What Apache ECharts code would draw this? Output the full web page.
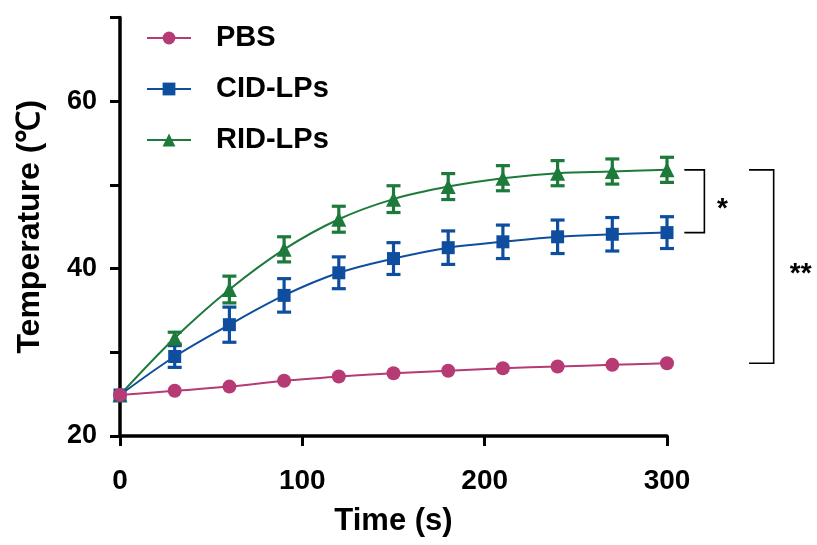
<!DOCTYPE html>
<html>
<head>
<meta charset="utf-8">
<script src="https://cdn.jsdelivr.net/npm/echarts@6/dist/echarts.min.js"></script>
<style>html,body{margin:0;padding:0;background:#fff;}#chart{width:817px;height:545px;}</style>
</head>
<body>
<div id="chart"></div>
<script>
const times = [0, 30, 60, 90, 120, 150, 180, 210, 240, 270, 300];
const pbs = [24.9, 25.4, 25.9, 26.6, 27.1, 27.5, 27.8, 28.1, 28.3, 28.5, 28.7];
const cid = [24.9, 29.5, 33.3, 36.8, 39.5, 41.2, 42.5, 43.2, 43.8, 44.1, 44.3];
const cidErr = [0, 1.3, 2.1, 2.0, 1.9, 1.9, 2.0, 2.0, 2.0, 2.0, 1.9];
const rid = [24.9, 31.7, 37.5, 42.3, 45.9, 48.3, 49.8, 50.8, 51.4, 51.6, 51.8];
const ridErr = [0, 0.7, 1.6, 1.5, 1.55, 1.6, 1.55, 1.5, 1.5, 1.5, 1.5];
const yTickLabels = [20, 40, 60];
const xTickLabels = [0, 100, 200, 300];
const names = ['PBS', 'CID-LPs', 'RID-LPs'];
const colors = {PBS: '#B63A74', CID: '#0F4E9E', RID: '#1D7A3A'};
const FONT = 'Liberation Sans, Arial, sans-serif';

const chart = echarts.init(document.getElementById('chart'));

function pairs(vals) { return times.map((t, i) => [t, vals[i]]); }
function errData(vals, errs) {
  return times.map((t, i) => [t, vals[i] - errs[i], vals[i] + errs[i]]).filter((d, i) => errs[i] > 0);
}
function errSeries(name, vals, errs, color) {
  return {
    type: 'custom', name: name, data: errData(vals, errs), silent: true,
    renderItem: function (params, api) {
      const x = api.value(0);
      const top = api.coord([x, api.value(2)]);
      const bot = api.coord([x, api.value(1)]);
      const hw = 7;
      const st = {stroke: color, lineWidth: 3.2};
      return {type: 'group', children: [
        {type: 'line', shape: {x1: top[0], y1: top[1], x2: bot[0], y2: bot[1]}, style: st},
        {type: 'line', shape: {x1: top[0] - hw, y1: top[1], x2: top[0] + hw, y2: top[1]}, style: st},
        {type: 'line', shape: {x1: bot[0] - hw, y1: bot[1], x2: bot[0] + hw, y2: bot[1]}, style: st}
      ]};
    }
  };
}
function lineSeries(name, vals, color, symbol, size) {
  return {
    type: 'line', name: name, data: pairs(vals), smooth: 0.35,
    symbol: symbol, symbolSize: size, showSymbol: true,
    lineStyle: {color: color, width: 2},
    itemStyle: {color: color, opacity: 1},
    emphasis: {disabled: true}
  };
}

const option = {
  backgroundColor: '#fff',
  animation: false,
  grid: {left: 120, right: 150, top: 17.5, bottom: 109, containLabel: false},
  legend: {
    data: names, orient: 'vertical', left: 146, top: 23, padding: 0,
    itemWidth: 44, itemHeight: 16, itemGap: 21,
    textStyle: {fontFamily: FONT, fontWeight: 'bold', fontSize: 29, color: '#000', lineHeight: 30, padding: [0, 0, 0, 20]},
    selectedMode: false
  },
  xAxis: {
    type: 'value', min: 0, max: 300, interval: 100,
    name: 'Time (s)', nameLocation: 'middle', nameGap: 70,
    nameTextStyle: {fontFamily: FONT, fontWeight: 'bold', fontSize: 31, color: '#000'},
    axisLine: {show: true, lineStyle: {color: '#000', width: 3.5}},
    axisTick: {show: true, length: 10, lineStyle: {color: '#000', width: 3}},
    axisLabel: {fontFamily: FONT, fontWeight: 'bold', fontSize: 28, color: '#000', margin: 31,
      formatter: v => xTickLabels.includes(v) ? String(v) : ''},
    splitLine: {show: false}
  },
  yAxis: {
    type: 'value', min: 20, max: 70, interval: 10,
    name: 'Temperature (℃)', nameLocation: 'middle', nameGap: 74, nameRotate: 90,
    nameTextStyle: {fontFamily: FONT, fontWeight: 'bold', fontSize: 32, color: '#000'},
    axisLine: {show: true, lineStyle: {color: '#000', width: 3.5}},
    axisTick: {show: true, length: 10, lineStyle: {color: '#000', width: 3}},
    axisLabel: {fontFamily: FONT, fontWeight: 'bold', fontSize: 27, color: '#000', margin: 23,
      formatter: v => yTickLabels.includes(v) ? String(v) : ''},
    splitLine: {show: false}
  },
  series: [
    errSeries('RID err', rid, ridErr, colors.RID),
    lineSeries('RID-LPs', rid, colors.RID, 'triangle', 15),
    errSeries('CID err', cid, cidErr, colors.CID),
    lineSeries('CID-LPs', cid, colors.CID, 'rect', 13),
    lineSeries('PBS', pbs, colors.PBS, 'circle', 14)
  ]
};
chart.setOption(option);

// significance brackets, anchored to final values
const last = times.length - 1;
const tEnd = times[last];
function px(x, y) { return chart.convertToPixel({gridIndex: 0}, [x, y]); }
const a1 = px(tEnd + 9.5, rid[last]), a2 = px(tEnd + 20.5, cid[last]);
const b1 = px(tEnd + 45, rid[last]), b2 = px(tEnd + 58.5, pbs[last]);
const bs = {stroke: '#000', lineWidth: 1.6, fill: null};
chart.setOption({
  graphic: [
    {type: 'polyline', shape: {points: [[a1[0], a1[1]], [a2[0], a1[1]], [a2[0], a2[1]], [a1[0], a2[1]]]}, style: bs},
    {type: 'polyline', shape: {points: [[b1[0], b1[1]], [b2[0], b1[1]], [b2[0], b2[1]], [b1[0], b2[1]]]}, style: bs},
    {type: 'text', x: a2[0] + 18, y: (a1[1] + a2[1]) / 2 + 8, style: {text: '*', fontFamily: FONT, fontWeight: 'bold', fontSize: 28, fill: '#000', align: 'center', verticalAlign: 'middle'}},
    {type: 'text', x: b2[0] + 27, y: (b1[1] + b2[1]) / 2 + 8, style: {text: '**', fontFamily: FONT, fontWeight: 'bold', fontSize: 28, fill: '#000', align: 'center', verticalAlign: 'middle'}}
  ]
});
</script>
</body>
</html>
